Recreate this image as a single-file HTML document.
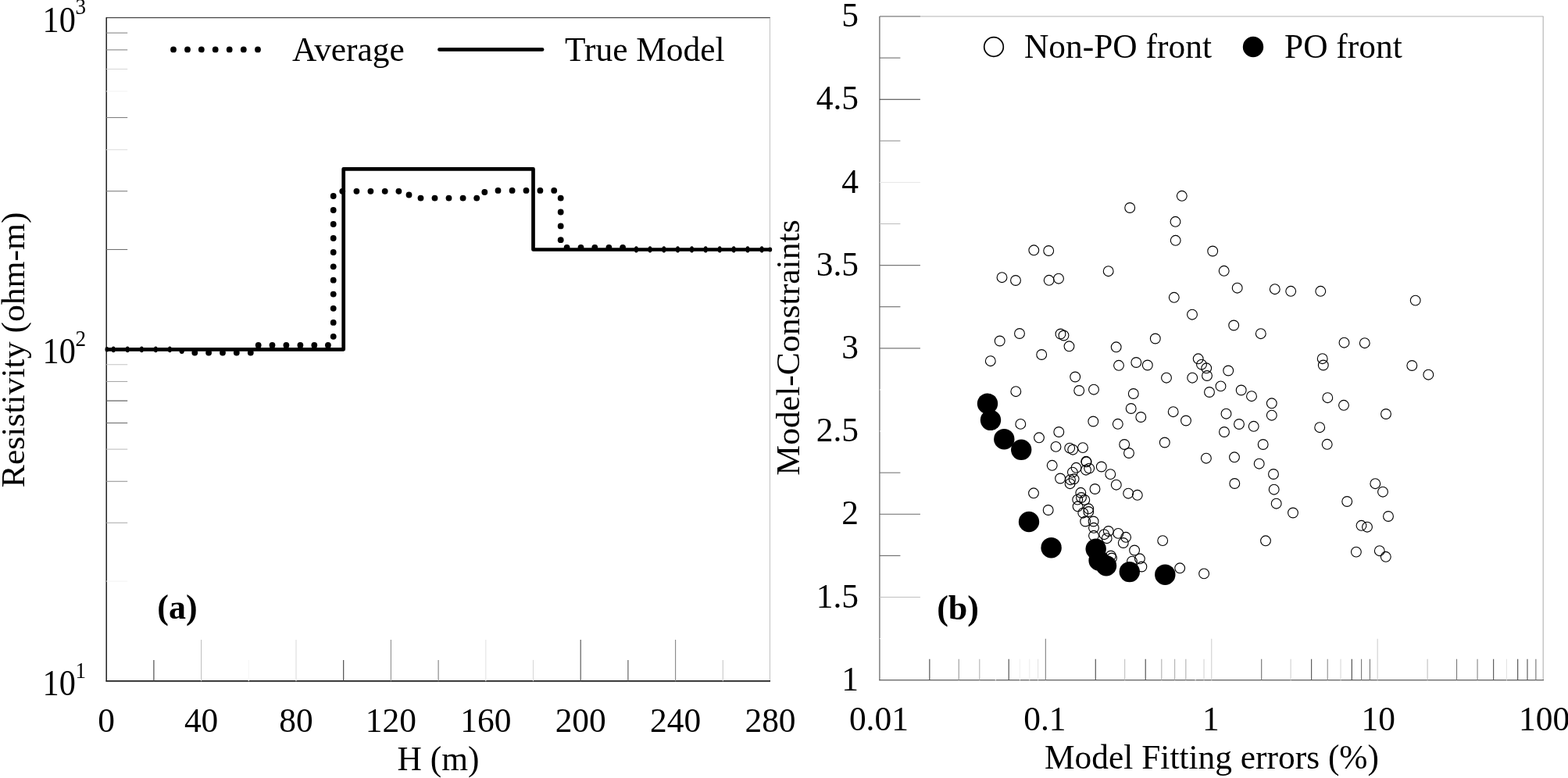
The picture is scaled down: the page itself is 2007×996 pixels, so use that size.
<!DOCTYPE html>
<html lang="en"><head><meta charset="utf-8"><title>Figure</title>
<style>
html,body{margin:0;padding:0;background:#fff;}
body{width:2007px;height:996px;overflow:hidden;}
svg{display:block;}
text{font-family:"Liberation Serif",serif;fill:#000;}
.t{font-size:44.8px;}
.b{font-size:44px;font-weight:bold;}
.s{font-size:28.5px;}
.p{font-size:45.5px;}
.r{font-size:42.3px;}
</style></head><body>
<svg width="2007" height="996" viewBox="0 0 2007 996">
<rect x="0" y="0" width="2007" height="996" fill="#fff"/>
<g id="left-plot">
<line x1="136.20" y1="22.70" x2="986.00" y2="22.70" stroke="#484848" stroke-width="1.2" />
<line x1="985.45" y1="22.70" x2="985.45" y2="871.90" stroke="#c0c0c0" stroke-width="1.0" />
<line x1="136.20" y1="22.20" x2="136.20" y2="872.40" stroke="#101010" stroke-width="1.4" />
<line x1="135.60" y1="871.90" x2="986.00" y2="871.90" stroke="#202020" stroke-width="1.7" />
<line x1="136.20" y1="42.13" x2="163.20" y2="42.13" stroke="#888888" stroke-width="1.1" />
<line x1="136.20" y1="63.85" x2="163.20" y2="63.85" stroke="#888888" stroke-width="1.1" />
<line x1="136.20" y1="88.47" x2="163.20" y2="88.47" stroke="#d8d8d8" stroke-width="1.1" />
<line x1="136.20" y1="116.90" x2="163.20" y2="116.90" stroke="#f4f4f4" stroke-width="1.1" />
<line x1="136.20" y1="150.52" x2="163.20" y2="150.52" stroke="#808080" stroke-width="1.1" />
<line x1="136.20" y1="191.67" x2="163.20" y2="191.67" stroke="#e0e0e0" stroke-width="1.1" />
<line x1="136.20" y1="244.71" x2="163.20" y2="244.71" stroke="#808080" stroke-width="1.1" />
<line x1="136.20" y1="319.48" x2="163.20" y2="319.48" stroke="#707070" stroke-width="1.1" />
<line x1="136.20" y1="466.73" x2="163.20" y2="466.73" stroke="#c8c8c8" stroke-width="1.1" />
<line x1="136.20" y1="488.45" x2="163.20" y2="488.45" stroke="#a8a8a8" stroke-width="1.1" />
<line x1="136.20" y1="513.07" x2="163.20" y2="513.07" stroke="#505050" stroke-width="1.1" />
<line x1="136.20" y1="541.50" x2="163.20" y2="541.50" stroke="#707070" stroke-width="1.1" />
<line x1="136.20" y1="575.12" x2="163.20" y2="575.12" stroke="#c0c0c0" stroke-width="1.1" />
<line x1="136.20" y1="616.27" x2="163.20" y2="616.27" stroke="#989898" stroke-width="1.1" />
<line x1="136.20" y1="669.31" x2="163.20" y2="669.31" stroke="#b0b0b0" stroke-width="1.1" />
<line x1="136.20" y1="744.08" x2="163.20" y2="744.08" stroke="#f4f4f4" stroke-width="1.1" />
<line x1="196.90" y1="871.90" x2="196.90" y2="844.90" stroke="#404040" stroke-width="1.1" />
<line x1="257.60" y1="871.90" x2="257.60" y2="818.90" stroke="#c0c0c0" stroke-width="1.1" />
<line x1="318.30" y1="871.90" x2="318.30" y2="844.90" stroke="#f6f6f6" stroke-width="1.1" />
<line x1="379.00" y1="871.90" x2="379.00" y2="818.90" stroke="#dcdcdc" stroke-width="1.1" />
<line x1="439.70" y1="871.90" x2="439.70" y2="844.90" stroke="#404040" stroke-width="1.1" />
<line x1="500.40" y1="871.90" x2="500.40" y2="818.90" stroke="#909090" stroke-width="1.1" />
<line x1="561.10" y1="871.90" x2="561.10" y2="844.90" stroke="#808080" stroke-width="1.1" />
<line x1="621.80" y1="871.90" x2="621.80" y2="818.90" stroke="#e4e4e4" stroke-width="1.1" />
<line x1="682.50" y1="871.90" x2="682.50" y2="844.90" stroke="#d8d8d8" stroke-width="1.1" />
<line x1="743.20" y1="871.90" x2="743.20" y2="818.90" stroke="#505050" stroke-width="1.1" />
<line x1="803.90" y1="871.90" x2="803.90" y2="844.90" stroke="#585858" stroke-width="1.1" />
<line x1="864.60" y1="871.90" x2="864.60" y2="818.90" stroke="#888888" stroke-width="1.1" />
<line x1="925.30" y1="871.90" x2="925.30" y2="844.90" stroke="#c8c8c8" stroke-width="1.1" />
<path d="M136.20,447.30 L439.70,447.30 L439.70,216.29 L682.50,216.29 L682.50,319.48 L986.00,319.48" fill="none" stroke="#000" stroke-width="4.7" stroke-linejoin="round" stroke-linecap="butt"/>
<g fill="#000">
<ellipse cx="136.9" cy="447.3" rx="2.4" ry="3.3"/>
<ellipse cx="145.2" cy="447.3" rx="2.5" ry="3.9"/>
<ellipse cx="163.2" cy="447.3" rx="2.5" ry="3.9"/>
<ellipse cx="181.3" cy="447.3" rx="2.5" ry="3.9"/>
<ellipse cx="199.3" cy="447.3" rx="2.5" ry="3.9"/>
<ellipse cx="217.3" cy="447.3" rx="2.5" ry="3.9"/>
<ellipse cx="232.7" cy="449.0" rx="3.2" ry="3.9"/>
<circle cx="249.3" cy="451.5" r="3.9"/>
<circle cx="267.1" cy="451.5" r="3.9"/>
<circle cx="285.0" cy="451.5" r="3.9"/>
<circle cx="302.8" cy="451.5" r="3.9"/>
<circle cx="320.8" cy="451.5" r="3.9"/>
<circle cx="330.7" cy="441.9" r="3.9"/>
<circle cx="348.5" cy="441.9" r="3.9"/>
<circle cx="366.4" cy="441.9" r="3.9"/>
<circle cx="384.4" cy="441.9" r="3.9"/>
<circle cx="402.3" cy="441.9" r="3.9"/>
<circle cx="419.9" cy="441.9" r="3.9"/>
<circle cx="426.7" cy="430.8" r="3.9"/>
<circle cx="426.7" cy="412.9" r="3.9"/>
<circle cx="426.7" cy="394.8" r="3.9"/>
<circle cx="426.7" cy="376.6" r="3.9"/>
<circle cx="426.7" cy="358.7" r="3.9"/>
<circle cx="426.7" cy="341.3" r="3.9"/>
<circle cx="426.7" cy="323.0" r="3.9"/>
<circle cx="426.7" cy="305.0" r="3.9"/>
<circle cx="426.7" cy="287.0" r="3.9"/>
<circle cx="426.7" cy="269.0" r="3.9"/>
<circle cx="426.7" cy="251.0" r="3.9"/>
<circle cx="438.3" cy="244.8" r="3.9"/>
<circle cx="456.4" cy="244.8" r="3.9"/>
<circle cx="474.4" cy="244.8" r="3.9"/>
<circle cx="492.7" cy="244.8" r="3.9"/>
<circle cx="510.4" cy="244.8" r="3.9"/>
<circle cx="523.5" cy="249.5" r="3.9"/>
<circle cx="538.5" cy="253.6" r="3.9"/>
<circle cx="556.5" cy="253.6" r="3.9"/>
<circle cx="574.5" cy="253.6" r="3.9"/>
<circle cx="592.6" cy="253.6" r="3.9"/>
<circle cx="610.2" cy="253.6" r="3.9"/>
<circle cx="620.3" cy="246.0" r="3.9"/>
<circle cx="637.5" cy="243.9" r="3.9"/>
<circle cx="655.6" cy="243.9" r="3.9"/>
<circle cx="673.5" cy="243.9" r="3.9"/>
<circle cx="691.4" cy="243.9" r="3.9"/>
<circle cx="709.2" cy="243.9" r="3.9"/>
<circle cx="717.7" cy="253.7" r="3.9"/>
<circle cx="717.7" cy="271.5" r="3.9"/>
<circle cx="717.7" cy="289.4" r="3.9"/>
<circle cx="717.7" cy="307.2" r="3.9"/>
<circle cx="725.6" cy="316.8" r="3.9"/>
<circle cx="743.5" cy="316.8" r="3.9"/>
<circle cx="761.3" cy="316.8" r="3.9"/>
<circle cx="779.4" cy="316.8" r="3.9"/>
<circle cx="797.1" cy="316.8" r="3.9"/>
<ellipse cx="814.4" cy="319.4" rx="2.5" ry="4.1"/>
<ellipse cx="832.0" cy="319.4" rx="2.5" ry="4.1"/>
<ellipse cx="849.8" cy="319.4" rx="2.5" ry="4.1"/>
<ellipse cx="867.5" cy="319.4" rx="2.5" ry="4.1"/>
<ellipse cx="885.5" cy="319.4" rx="2.5" ry="4.1"/>
<ellipse cx="903.2" cy="319.4" rx="2.5" ry="4.1"/>
<ellipse cx="921.2" cy="319.4" rx="2.5" ry="4.1"/>
<ellipse cx="939.2" cy="319.4" rx="2.5" ry="4.1"/>
<ellipse cx="957.0" cy="319.4" rx="2.5" ry="4.1"/>
<ellipse cx="975.1" cy="319.4" rx="2.5" ry="4.1"/>
<ellipse cx="985.6" cy="319.5" rx="2.6" ry="2.9"/>
</g>
<circle cx="222" cy="63.4" r="3.9" fill="#000"/>
<circle cx="240" cy="63.4" r="3.9" fill="#000"/>
<circle cx="257.8" cy="63.4" r="3.9" fill="#000"/>
<circle cx="275.7" cy="63.4" r="3.9" fill="#000"/>
<circle cx="293.7" cy="63.4" r="3.9" fill="#000"/>
<circle cx="311.8" cy="63.4" r="3.9" fill="#000"/>
<circle cx="330" cy="63.4" r="3.9" fill="#000"/>
<line x1="562.5" y1="63.4" x2="694" y2="63.4" stroke="#000" stroke-width="4.8" stroke-linecap="round"/>
<text class="t" transform="translate(374.00,78.40) scale(0.969,1.0)">Average</text>
<text class="t" transform="translate(723.00,78.40) scale(0.969,1.0)">True Model</text>
<text class="p" transform="translate(54.60,40.70) scale(0.93,1.0)">10</text>
<text class="s" transform="translate(96.50,17.60) scale(0.95,1.0)">3</text>
<text class="p" transform="translate(54.60,465.30) scale(0.93,1.0)">10</text>
<text class="s" transform="translate(96.50,443.10) scale(0.95,1.0)">2</text>
<text class="p" transform="translate(54.60,890.20) scale(0.93,1.0)">10</text>
<text class="s" transform="translate(96.50,868.30) scale(0.95,1.0)">1</text>
<text class="t" transform="translate(136.20,936.70) scale(0.969,1.0)" text-anchor="middle">0</text>
<text class="t" transform="translate(257.60,936.70) scale(0.969,1.0)" text-anchor="middle">40</text>
<text class="t" transform="translate(379.00,936.70) scale(0.969,1.0)" text-anchor="middle">80</text>
<text class="t" transform="translate(500.40,936.70) scale(0.969,1.0)" text-anchor="middle">120</text>
<text class="t" transform="translate(621.80,936.70) scale(0.969,1.0)" text-anchor="middle">160</text>
<text class="t" transform="translate(743.20,936.70) scale(0.969,1.0)" text-anchor="middle">200</text>
<text class="t" transform="translate(864.60,936.70) scale(0.969,1.0)" text-anchor="middle">240</text>
<text class="t" transform="translate(986.00,936.70) scale(0.969,1.0)" text-anchor="middle">280</text>
<text class="t" transform="translate(561.00,986.00) scale(0.969,1.0)" text-anchor="middle">H (m)</text>
<text class="r" transform="translate(30.50,447.80) rotate(-90) scale(1.032,1.0)" text-anchor="middle">Resistivity (ohm-m)</text>
<text class="b" transform="translate(201.30,792.20) scale(1.0,1.0)">(a)</text>
</g>
<g id="right-plot">
<line x1="1125.90" y1="21.00" x2="1975.60" y2="21.00" stroke="#b4b4b4" stroke-width="1.1" />
<line x1="1975.20" y1="21.00" x2="1975.20" y2="870.70" stroke="#b0b0b0" stroke-width="1.1" />
<line x1="1125.90" y1="21.00" x2="1125.90" y2="871.20" stroke="#606060" stroke-width="1.2" />
<line x1="1125.40" y1="870.70" x2="1976.10" y2="870.70" stroke="#606060" stroke-width="1.2" />
<line x1="1125.90" y1="74.11" x2="1152.40" y2="74.11" stroke="#707070" stroke-width="1.1" />
<line x1="1125.90" y1="127.21" x2="1177.90" y2="127.21" stroke="#383838" stroke-width="1.1" />
<line x1="1125.90" y1="180.32" x2="1152.40" y2="180.32" stroke="#989898" stroke-width="1.1" />
<line x1="1125.90" y1="233.43" x2="1177.90" y2="233.43" stroke="#e8e8e8" stroke-width="1.1" />
<line x1="1125.90" y1="286.53" x2="1152.40" y2="286.53" stroke="#c0c0c0" stroke-width="1.1" />
<line x1="1125.90" y1="339.64" x2="1177.90" y2="339.64" stroke="#787878" stroke-width="1.1" />
<line x1="1125.90" y1="392.74" x2="1152.40" y2="392.74" stroke="#686868" stroke-width="1.1" />
<line x1="1125.90" y1="445.85" x2="1177.90" y2="445.85" stroke="#787878" stroke-width="1.1" />
<line x1="1125.90" y1="498.96" x2="1152.40" y2="498.96" stroke="#ffffff" stroke-width="1.1" />
<line x1="1125.90" y1="552.06" x2="1177.90" y2="552.06" stroke="#ffffff" stroke-width="1.1" />
<line x1="1125.90" y1="605.17" x2="1152.40" y2="605.17" stroke="#787878" stroke-width="1.1" />
<line x1="1125.90" y1="658.28" x2="1177.90" y2="658.28" stroke="#686868" stroke-width="1.1" />
<line x1="1125.90" y1="711.38" x2="1152.40" y2="711.38" stroke="#686868" stroke-width="1.1" />
<line x1="1125.90" y1="764.49" x2="1177.90" y2="764.49" stroke="#c0c0c0" stroke-width="1.1" />
<line x1="1125.90" y1="817.59" x2="1152.40" y2="817.59" stroke="#ffffff" stroke-width="1.1" />
<line x1="1125.90" y1="21.00" x2="1177.90" y2="21.00" stroke="#808080" stroke-width="1.1" />
<line x1="1189.85" y1="870.70" x2="1189.85" y2="843.70" stroke="#484848" stroke-width="1.1" />
<line x1="1227.25" y1="870.70" x2="1227.25" y2="843.70" stroke="#989898" stroke-width="1.1" />
<line x1="1253.79" y1="870.70" x2="1253.79" y2="843.70" stroke="#b4b4b4" stroke-width="1.1" />
<line x1="1274.38" y1="870.70" x2="1274.38" y2="843.70" stroke="#ffffff" stroke-width="1.1" />
<line x1="1291.20" y1="870.70" x2="1291.20" y2="843.70" stroke="#484848" stroke-width="1.1" />
<line x1="1305.42" y1="870.70" x2="1305.42" y2="843.70" stroke="#f2f2f2" stroke-width="1.1" />
<line x1="1317.74" y1="870.70" x2="1317.74" y2="843.70" stroke="#eeeeee" stroke-width="1.1" />
<line x1="1328.60" y1="870.70" x2="1328.60" y2="843.70" stroke="#e4e4e4" stroke-width="1.1" />
<line x1="1338.33" y1="870.70" x2="1338.33" y2="817.70" stroke="#808080" stroke-width="1.1" />
<line x1="1402.27" y1="870.70" x2="1402.27" y2="843.70" stroke="#484848" stroke-width="1.1" />
<line x1="1439.68" y1="870.70" x2="1439.68" y2="843.70" stroke="#c0c0c0" stroke-width="1.1" />
<line x1="1466.22" y1="870.70" x2="1466.22" y2="843.70" stroke="#484848" stroke-width="1.1" />
<line x1="1486.80" y1="870.70" x2="1486.80" y2="843.70" stroke="#b0b0b0" stroke-width="1.1" />
<line x1="1503.62" y1="870.70" x2="1503.62" y2="843.70" stroke="#b0b0b0" stroke-width="1.1" />
<line x1="1517.84" y1="870.70" x2="1517.84" y2="843.70" stroke="#b0b0b0" stroke-width="1.1" />
<line x1="1530.16" y1="870.70" x2="1530.16" y2="843.70" stroke="#ffffff" stroke-width="1.1" />
<line x1="1541.03" y1="870.70" x2="1541.03" y2="843.70" stroke="#d4d4d4" stroke-width="1.1" />
<line x1="1550.75" y1="870.70" x2="1550.75" y2="817.70" stroke="#d0d0d0" stroke-width="1.1" />
<line x1="1614.70" y1="870.70" x2="1614.70" y2="843.70" stroke="#707070" stroke-width="1.1" />
<line x1="1652.10" y1="870.70" x2="1652.10" y2="843.70" stroke="#d0d0d0" stroke-width="1.1" />
<line x1="1678.64" y1="870.70" x2="1678.64" y2="843.70" stroke="#505050" stroke-width="1.1" />
<line x1="1699.23" y1="870.70" x2="1699.23" y2="843.70" stroke="#909090" stroke-width="1.1" />
<line x1="1716.05" y1="870.70" x2="1716.05" y2="843.70" stroke="#d8d8d8" stroke-width="1.1" />
<line x1="1730.27" y1="870.70" x2="1730.27" y2="843.70" stroke="#404040" stroke-width="1.1" />
<line x1="1742.59" y1="870.70" x2="1742.59" y2="843.70" stroke="#787878" stroke-width="1.1" />
<line x1="1753.45" y1="870.70" x2="1753.45" y2="843.70" stroke="#787878" stroke-width="1.1" />
<line x1="1763.17" y1="870.70" x2="1763.17" y2="817.70" stroke="#d0d0d0" stroke-width="1.1" />
<line x1="1827.12" y1="870.70" x2="1827.12" y2="843.70" stroke="#c0c0c0" stroke-width="1.1" />
<line x1="1864.53" y1="870.70" x2="1864.53" y2="843.70" stroke="#787878" stroke-width="1.1" />
<line x1="1891.07" y1="870.70" x2="1891.07" y2="843.70" stroke="#888888" stroke-width="1.1" />
<line x1="1911.65" y1="870.70" x2="1911.65" y2="843.70" stroke="#505050" stroke-width="1.1" />
<line x1="1928.47" y1="870.70" x2="1928.47" y2="843.70" stroke="#e4e4e4" stroke-width="1.1" />
<line x1="1942.69" y1="870.70" x2="1942.69" y2="843.70" stroke="#484848" stroke-width="1.1" />
<line x1="1955.01" y1="870.70" x2="1955.01" y2="843.70" stroke="#505050" stroke-width="1.1" />
<line x1="1965.88" y1="870.70" x2="1965.88" y2="843.70" stroke="#707070" stroke-width="1.1" />
<g fill="none" stroke="#000" stroke-width="1.1">
<circle cx="1512.8" cy="250.8" r="6.4"/>
<circle cx="1446.2" cy="266.0" r="6.4"/>
<circle cx="1504.5" cy="283.8" r="6.4"/>
<circle cx="1504.7" cy="307.8" r="6.4"/>
<circle cx="1323.3" cy="320.3" r="6.4"/>
<circle cx="1342.2" cy="321.0" r="6.4"/>
<circle cx="1552.2" cy="321.5" r="6.4"/>
<circle cx="1418.7" cy="347.2" r="6.4"/>
<circle cx="1282.5" cy="355.2" r="6.4"/>
<circle cx="1300.0" cy="359.0" r="6.4"/>
<circle cx="1342.7" cy="358.8" r="6.4"/>
<circle cx="1355.0" cy="356.7" r="6.4"/>
<circle cx="1502.8" cy="380.8" r="6.4"/>
<circle cx="1566.7" cy="346.8" r="6.4"/>
<circle cx="1583.7" cy="368.7" r="6.4"/>
<circle cx="1631.8" cy="370.2" r="6.4"/>
<circle cx="1652.2" cy="372.8" r="6.4"/>
<circle cx="1690.3" cy="372.8" r="6.4"/>
<circle cx="1811.7" cy="384.6" r="6.4"/>
<circle cx="1526.0" cy="402.7" r="6.4"/>
<circle cx="1305.0" cy="427.0" r="6.4"/>
<circle cx="1357.5" cy="427.5" r="6.4"/>
<circle cx="1361.5" cy="429.5" r="6.4"/>
<circle cx="1279.7" cy="436.5" r="6.4"/>
<circle cx="1368.5" cy="443.3" r="6.4"/>
<circle cx="1478.8" cy="433.5" r="6.4"/>
<circle cx="1428.7" cy="444.3" r="6.4"/>
<circle cx="1333.2" cy="454.0" r="6.4"/>
<circle cx="1267.8" cy="462.2" r="6.4"/>
<circle cx="1432.0" cy="467.8" r="6.4"/>
<circle cx="1454.3" cy="464.0" r="6.4"/>
<circle cx="1468.8" cy="467.5" r="6.4"/>
<circle cx="1533.7" cy="459.3" r="6.4"/>
<circle cx="1538.0" cy="466.7" r="6.4"/>
<circle cx="1544.2" cy="471.3" r="6.4"/>
<circle cx="1545.0" cy="481.0" r="6.4"/>
<circle cx="1526.2" cy="483.7" r="6.4"/>
<circle cx="1493.0" cy="483.7" r="6.4"/>
<circle cx="1376.2" cy="482.5" r="6.4"/>
<circle cx="1381.2" cy="500.0" r="6.4"/>
<circle cx="1400.0" cy="498.7" r="6.4"/>
<circle cx="1300.3" cy="501.2" r="6.4"/>
<circle cx="1450.8" cy="504.0" r="6.4"/>
<circle cx="1548.0" cy="502.0" r="6.4"/>
<circle cx="1562.5" cy="494.4" r="6.4"/>
<circle cx="1447.7" cy="523.0" r="6.4"/>
<circle cx="1460.3" cy="534.0" r="6.4"/>
<circle cx="1501.7" cy="527.2" r="6.4"/>
<circle cx="1518.0" cy="538.5" r="6.4"/>
<circle cx="1399.3" cy="539.5" r="6.4"/>
<circle cx="1430.8" cy="542.8" r="6.4"/>
<circle cx="1306.3" cy="542.9" r="6.4"/>
<circle cx="1579.2" cy="416.5" r="6.4"/>
<circle cx="1613.8" cy="427.2" r="6.4"/>
<circle cx="1720.5" cy="438.7" r="6.4"/>
<circle cx="1746.8" cy="439.2" r="6.4"/>
<circle cx="1692.7" cy="459.2" r="6.4"/>
<circle cx="1693.8" cy="467.5" r="6.4"/>
<circle cx="1807.3" cy="468.0" r="6.4"/>
<circle cx="1828.3" cy="479.7" r="6.4"/>
<circle cx="1572.2" cy="474.5" r="6.4"/>
<circle cx="1588.7" cy="499.5" r="6.4"/>
<circle cx="1602.0" cy="507.2" r="6.4"/>
<circle cx="1627.8" cy="516.3" r="6.4"/>
<circle cx="1627.8" cy="531.7" r="6.4"/>
<circle cx="1569.5" cy="529.7" r="6.4"/>
<circle cx="1699.3" cy="509.2" r="6.4"/>
<circle cx="1720.0" cy="518.8" r="6.4"/>
<circle cx="1774.0" cy="530.0" r="6.4"/>
<circle cx="1586.0" cy="543.0" r="6.4"/>
<circle cx="1604.7" cy="545.8" r="6.4"/>
<circle cx="1689.2" cy="547.2" r="6.4"/>
<circle cx="1567.0" cy="553.0" r="6.4"/>
<circle cx="1330.0" cy="560.3" r="6.4"/>
<circle cx="1355.3" cy="553.0" r="6.4"/>
<circle cx="1351.5" cy="571.9" r="6.4"/>
<circle cx="1369.2" cy="573.6" r="6.4"/>
<circle cx="1373.2" cy="575.7" r="6.4"/>
<circle cx="1386.0" cy="573.1" r="6.4"/>
<circle cx="1439.2" cy="569.0" r="6.4"/>
<circle cx="1445.0" cy="580.0" r="6.4"/>
<circle cx="1490.8" cy="566.5" r="6.4"/>
<circle cx="1543.9" cy="586.7" r="6.4"/>
<circle cx="1346.7" cy="595.8" r="6.4"/>
<circle cx="1390.2" cy="590.8" r="6.4"/>
<circle cx="1390.6" cy="591.4" r="6.4"/>
<circle cx="1394.2" cy="599.6" r="6.4"/>
<circle cx="1390.0" cy="601.7" r="6.4"/>
<circle cx="1377.5" cy="598.8" r="6.4"/>
<circle cx="1372.9" cy="604.6" r="6.4"/>
<circle cx="1409.8" cy="597.5" r="6.4"/>
<circle cx="1421.3" cy="607.1" r="6.4"/>
<circle cx="1357.1" cy="612.5" r="6.4"/>
<circle cx="1374.6" cy="613.3" r="6.4"/>
<circle cx="1370.0" cy="614.2" r="6.4"/>
<circle cx="1369.6" cy="619.2" r="6.4"/>
<circle cx="1428.8" cy="620.7" r="6.4"/>
<circle cx="1401.5" cy="626.0" r="6.4"/>
<circle cx="1383.3" cy="630.8" r="6.4"/>
<circle cx="1444.2" cy="631.7" r="6.4"/>
<circle cx="1455.8" cy="633.8" r="6.4"/>
<circle cx="1323.0" cy="631.3" r="6.4"/>
<circle cx="1379.2" cy="639.6" r="6.4"/>
<circle cx="1388.3" cy="640.0" r="6.4"/>
<circle cx="1384.0" cy="637.0" r="6.4"/>
<circle cx="1379.6" cy="648.3" r="6.4"/>
<circle cx="1393.3" cy="651.3" r="6.4"/>
<circle cx="1386.3" cy="656.7" r="6.4"/>
<circle cx="1393.3" cy="655.0" r="6.4"/>
<circle cx="1341.7" cy="653.0" r="6.4"/>
<circle cx="1399.6" cy="667.5" r="6.4"/>
<circle cx="1389.2" cy="667.5" r="6.4"/>
<circle cx="1400.0" cy="675.8" r="6.4"/>
<circle cx="1418.8" cy="680.0" r="6.4"/>
<circle cx="1400.0" cy="685.8" r="6.4"/>
<circle cx="1413.3" cy="684.2" r="6.4"/>
<circle cx="1416.7" cy="689.2" r="6.4"/>
<circle cx="1431.3" cy="682.9" r="6.4"/>
<circle cx="1441.1" cy="687.8" r="6.4"/>
<circle cx="1437.8" cy="695.0" r="6.4"/>
<circle cx="1452.1" cy="704.5" r="6.4"/>
<circle cx="1488.2" cy="692.1" r="6.4"/>
<circle cx="1458.9" cy="715.3" r="6.4"/>
<circle cx="1449.0" cy="718.6" r="6.4"/>
<circle cx="1461.4" cy="725.5" r="6.4"/>
<circle cx="1421.8" cy="711.5" r="6.4"/>
<circle cx="1423.0" cy="714.5" r="6.4"/>
<circle cx="1510.2" cy="727.3" r="6.4"/>
<circle cx="1541.1" cy="734.4" r="6.4"/>
<circle cx="1616.7" cy="569.0" r="6.4"/>
<circle cx="1698.7" cy="568.8" r="6.4"/>
<circle cx="1580.0" cy="585.3" r="6.4"/>
<circle cx="1611.7" cy="593.7" r="6.4"/>
<circle cx="1630.0" cy="607.0" r="6.4"/>
<circle cx="1580.3" cy="619.0" r="6.4"/>
<circle cx="1630.7" cy="626.7" r="6.4"/>
<circle cx="1633.7" cy="644.7" r="6.4"/>
<circle cx="1655.0" cy="656.5" r="6.4"/>
<circle cx="1760.3" cy="619.2" r="6.4"/>
<circle cx="1770.0" cy="629.7" r="6.4"/>
<circle cx="1724.2" cy="642.0" r="6.4"/>
<circle cx="1777.0" cy="661.0" r="6.4"/>
<circle cx="1742.5" cy="672.8" r="6.4"/>
<circle cx="1750.0" cy="674.7" r="6.4"/>
<circle cx="1620.0" cy="692.3" r="6.4"/>
<circle cx="1735.9" cy="706.6" r="6.4"/>
<circle cx="1765.8" cy="705.2" r="6.4"/>
<circle cx="1773.8" cy="712.8" r="6.4"/>
</g>
<g fill="#000">
<circle cx="1264.0" cy="516.7" r="13.2"/>
<circle cx="1268.0" cy="537.8" r="13.2"/>
<circle cx="1285.3" cy="562.2" r="13.2"/>
<circle cx="1307.2" cy="575.8" r="13.2"/>
<circle cx="1317.0" cy="668.0" r="13.2"/>
<circle cx="1345.6" cy="701.2" r="13.2"/>
<circle cx="1402.7" cy="702.8" r="13.2"/>
<circle cx="1406.6" cy="717.4" r="13.2"/>
<circle cx="1416.0" cy="724.2" r="13.2"/>
<circle cx="1445.8" cy="732.1" r="13.2"/>
<circle cx="1491.3" cy="735.7" r="13.2"/>
</g>
<circle cx="1272" cy="60" r="12.3" fill="none" stroke="#000" stroke-width="1.7"/>
<circle cx="1604" cy="60" r="13.2" fill="#000"/>
<text class="t" transform="translate(1311.00,74.00) scale(0.969,1.0)">Non-PO front</text>
<text class="t" transform="translate(1644.00,74.00) scale(0.969,1.0)">PO front</text>
<text class="t" transform="translate(1099.00,34.20) scale(0.969,1.0)" text-anchor="end">5</text>
<text class="t" transform="translate(1099.00,140.41) scale(0.969,1.0)" text-anchor="end">4.5</text>
<text class="t" transform="translate(1099.00,246.62) scale(0.969,1.0)" text-anchor="end">4</text>
<text class="t" transform="translate(1099.00,352.84) scale(0.969,1.0)" text-anchor="end">3.5</text>
<text class="t" transform="translate(1099.00,459.05) scale(0.969,1.0)" text-anchor="end">3</text>
<text class="t" transform="translate(1099.00,565.26) scale(0.969,1.0)" text-anchor="end">2.5</text>
<text class="t" transform="translate(1099.00,671.48) scale(0.969,1.0)" text-anchor="end">2</text>
<text class="t" transform="translate(1099.00,777.69) scale(0.969,1.0)" text-anchor="end">1.5</text>
<text class="t" transform="translate(1099.00,883.90) scale(0.969,1.0)" text-anchor="end">1</text>
<text class="t" transform="translate(1124.90,934.70) scale(0.969,1.0)" text-anchor="middle">0.01</text>
<text class="t" transform="translate(1337.33,934.70) scale(0.969,1.0)" text-anchor="middle">0.1</text>
<text class="t" transform="translate(1549.75,934.70) scale(0.969,1.0)" text-anchor="middle">1</text>
<text class="t" transform="translate(1764.17,934.70) scale(0.969,1.0)" text-anchor="middle">10</text>
<text class="t" transform="translate(1976.60,934.70) scale(0.969,1.0)" text-anchor="middle">100</text>
<text class="t" transform="translate(1551.00,984.00) scale(0.969,1.0)" text-anchor="middle">Model Fitting errors (%)</text>
<text class="r" transform="translate(1023.00,445.00) rotate(-90) scale(1.032,1.0)" text-anchor="middle">Model-Constraints</text>
<text class="b" transform="translate(1199.20,793.20) scale(1.0,1.0)">(b)</text>
</g>
</svg></body></html>
